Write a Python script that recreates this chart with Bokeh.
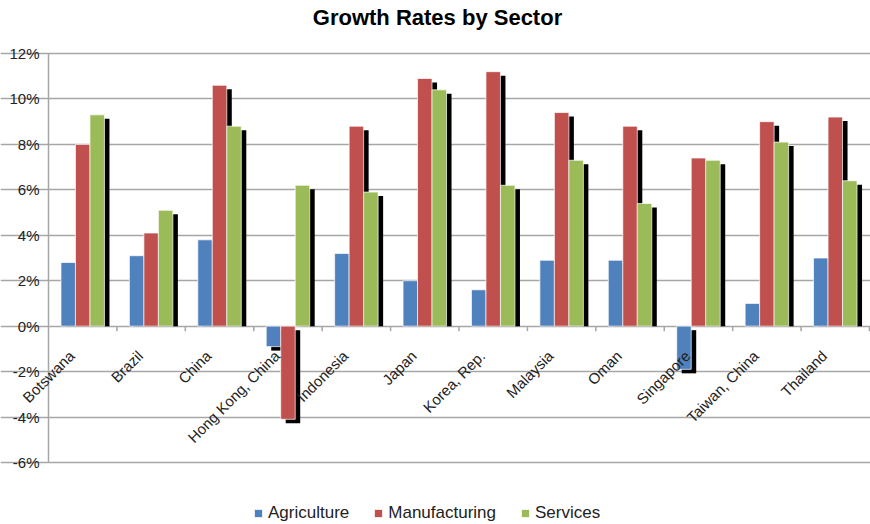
import math
from bokeh.plotting import figure
from bokeh.models import (ColumnDataSource, Range1d, FixedTicker, Legend, LegendItem,
                          Label, LabelSet)
from bokeh.core.properties import value
from bokeh.embed import file_html
from bokeh.resources import INLINE

# ---------------- data ----------------
countries = ["Botswana", "Brazil", "China", "Hong Kong, China", "Indonesia", "Japan",
             "Korea, Rep.", "Malaysia", "Oman", "Singapore", "Taiwan, China", "Thailand"]
agriculture = [2.8, 3.1, 3.8, -0.9, 3.2, 2.0, 1.6, 2.9, 2.9, -1.9, 1.0, 3.0]
manufacturing = [8.0, 4.1, 10.6, -4.1, 8.8, 10.9, 11.2, 9.4, 8.8, 7.4, 9.0, 9.2]
services = [9.3, 5.1, 8.8, 6.2, 5.9, 10.4, 6.2, 7.3, 5.4, 7.3, 8.1, 6.4]
series_names = ["Agriculture", "Manufacturing", "Services"]
series_colors = ["#4F81BD", "#C0504D", "#9BBB59"]
y_ticks = [-6, -4, -2, 0, 2, 4, 6, 8, 10, 12]
y_tick_labels = [f"{t}%" for t in y_ticks]
title_text = "Growth Rates by Sector"

# ---------------- layout ----------------
W, H = 870, 524
LEFT, RIGHT, TOP, BOTTOM = 48, 1, 53, 62      # plot-area margins inside the canvas
N = len(countries)
YMIN, YMAX = y_ticks[0], y_ticks[-1]
px_x = (W - LEFT - RIGHT) / N                # pixels per category
px_y = (H - TOP - BOTTOM) / (YMAX - YMIN)    # pixels per percent

# the frame covers the whole canvas so that no text is clipped;
# the axis ranges are widened by the margins
p = figure(width=W, height=H,
           x_range=Range1d(-LEFT / px_x, N + RIGHT / px_x),
           y_range=Range1d(YMIN - BOTTOM / px_y, YMAX + TOP / px_y),
           output_backend="svg", toolbar_location=None,
           x_axis_location=None, y_axis_location=None,
           min_border=0)
p.outline_line_color = None
p.background_fill_color = "white"
p.border_fill_color = "white"

GRID = "#a6a6a6"
p.xgrid.visible = False
p.ygrid.ticker = FixedTicker(ticks=y_ticks)
p.ygrid.grid_line_color = GRID
p.ygrid.grid_line_width = 1.5
p.ygrid.bounds = (-5 / px_x, N)              # grid starts 5 px left of the axis (tick mark)

cat_x = [i + 0.5 for i in range(N)]         # category centres on the numeric scale
bound_x = [i + 1 for i in range(N)]         # category boundaries

# y axis line
p.segment(x0=[0], y0=[YMIN], x1=[0], y1=[YMAX], line_color=GRID, line_width=1.5)

# y tick labels
ytl = ColumnDataSource(dict(x=[0] * len(y_ticks), y=y_ticks, t=y_tick_labels))
p.add_layout(LabelSet(x="x", y="y", text="t", source=ytl, x_offset=-9,
                      text_align="right", text_baseline="middle",
                      text_font=value("Liberation Sans"), text_font_size=value("15px"),
                      text_color="#222222"))

BAR_W = 14.5 / px_x
offsets = [-BAR_W, 0.0, BAR_W]
SH_DX = 5 / px_x
SH_DY = 4 / px_y
all_vals = [agriculture, manufacturing, services]

# shadows first
for vals, off in zip(all_vals, offsets):
    top = [v - SH_DY if v > 0 else -SH_DY for v in vals]
    bottom = [0 if v > 0 else v - SH_DY for v in vals]
    src = ColumnDataSource(dict(x=[c + off + SH_DX for c in cat_x], top=top, bottom=bottom))
    p.vbar(x="x", top="top", bottom="bottom", width=BAR_W, source=src,
           fill_color="black", line_color=None)

renderers = []
for vals, off, color in zip(all_vals, offsets, series_colors):
    src = ColumnDataSource(dict(x=[c + off for c in cat_x], v=vals))
    r = p.vbar(x="x", top="v", bottom=0, width=BAR_W, source=src,
               fill_color=color, line_color="white", line_width=1, line_alpha=0.7)
    renderers.append(r)

# category boundary ticks on the zero line
tick_src = ColumnDataSource(dict(x=bound_x, y0=[0] * N, y1=[-5 / px_y] * N))
p.segment(x0="x", y0="y0", x1="x", y1="y1", source=tick_src,
          line_color=GRID, line_width=1.5)

# rotated category labels
lab_src = ColumnDataSource(dict(x=cat_x, y=[0] * N, t=countries))
p.add_layout(LabelSet(x="x", y="y", text="t", source=lab_src, angle=math.pi / 4,
                      text_align="right", text_baseline="middle",
                      x_offset=-11, y_offset=-27,
                      text_font=value("Liberation Sans"), text_font_size=value("15px"),
                      text_color="#222222"))

# title (screen units, relative to the frame = canvas)
p.add_layout(Label(x=437, y=H - 17, x_units="screen", y_units="screen",
                   text=title_text, text_align="center", text_baseline="middle",
                   text_font="Liberation Sans", text_font_size="22px",
                   text_font_style="bold", text_color="#000000"))

legend = Legend(items=[LegendItem(label=n, renderers=[r]) for n, r in zip(series_names, renderers)],
                orientation="horizontal", location=(253, 1),
                label_text_font="Liberation Sans", label_text_font_size="17px",
                label_text_color="#222222",
                glyph_width=10, glyph_height=10, label_standoff=5, spacing=24,
                padding=0, margin=0, border_line_color=None, background_fill_alpha=0)
p.add_layout(legend)

open("out.html", "w").write(file_html(p, INLINE))
